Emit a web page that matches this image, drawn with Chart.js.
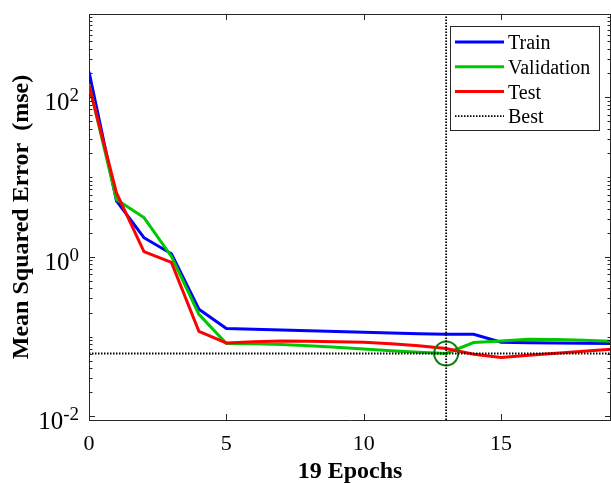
<!DOCTYPE html>
<html>
<head>
<meta charset="utf-8">
<script src="https://cdn.jsdelivr.net/npm/chart.js@4.4.0/dist/chart.umd.min.js"></script>
<style>
    html, body { margin: 0; padding: 0; background: #fff; overflow: hidden; }
    #perfChart { display: block; }
</style>
</head>
<body>
<canvas id="perfChart" width="625" height="483"></canvas>
<script>
    "use strict";

    // epochs and mse per data split
    const epochs = [0, 1, 2, 3, 4, 5, 6, 7, 8, 9, 10, 11, 12, 13, 14, 15, 16, 17, 18, 19];
    const trainMse = [207, 5.0, 1.73, 1.09, 0.22, 0.126, 0.1234, 0.121, 0.118, 0.116, 0.113, 0.111, 0.1087, 0.107, 0.107, 0.085, 0.0835, 0.0829, 0.0822, 0.0817];
    const validationMse = [145, 5.2, 3.1, 1.01, 0.19, 0.0818, 0.0811, 0.0794, 0.0767, 0.0735, 0.070, 0.0665, 0.0637, 0.0613, 0.0841, 0.088, 0.0925, 0.0917, 0.090, 0.0872];
    const testMse = [140, 6.3, 1.16, 0.85, 0.116, 0.083, 0.086, 0.088, 0.087, 0.0862, 0.085, 0.0813, 0.0767, 0.0708, 0.060, 0.0546, 0.0584, 0.0618, 0.0655, 0.0694];

    const bestEpoch = 13;
    const bestMse = 0.0613;

    const xMin = 0, xMax = 19;
    const yMin = 0.009, yMax = 1100;
    const xTickValues = [0, 5, 10, 15];
    const yTickValues = [0.01, 1, 100];
    const yTickLabels = [['10', '-2'], ['10', '0'], ['10', '2']];

    const serif = "'Liberation Serif', 'Times New Roman', serif";
    const axisColor = '#262626';

    function toPoints(values) {
        return values.map((v, i) => ({x: epochs[i], y: v}));
    }

    // minor ticks of the log axis: 2..9 x 10^n, plus the odd decades
    function logMinorTicks() {
        let out = [];
        for (let e = -3; e <= 3; e++) {
            for (let k = 1; k <= 9; k++) {
                let v = k * Math.pow(10, e);
                if (v >= yMin && v <= yMax && yTickValues.indexOf(v) < 0) out.push(v);
            }
        }
        return out;
    }

    // box, inward ticks, y labels with exponents and the legend, MATLAB style
    const matlabFrame = {
        id: 'matlabFrame',
        afterDatasetsDraw(chart) {
            const ctx = chart.ctx;
            const a = chart.chartArea;
            const x = chart.scales.x, y = chart.scales.y;
            ctx.save();

            ctx.strokeStyle = axisColor;
            ctx.lineWidth = 1;
            ctx.beginPath();
            ctx.moveTo(a.left, a.top + 0.5); ctx.lineTo(a.right, a.top + 0.5);
            ctx.moveTo(a.right - 0.5, a.top); ctx.lineTo(a.right - 0.5, a.bottom);
            xTickValues.forEach(v => {
                let px = Math.round(x.getPixelForValue(v)) + 0.5;
                ctx.moveTo(px, a.bottom); ctx.lineTo(px, a.bottom - 6);
                ctx.moveTo(px, a.top); ctx.lineTo(px, a.top + 6);
            });
            yTickValues.forEach(v => {
                let py = Math.round(y.getPixelForValue(v)) + 0.5;
                ctx.moveTo(a.left, py); ctx.lineTo(a.left + 6, py);
                ctx.moveTo(a.right, py); ctx.lineTo(a.right - 6, py);
            });
            logMinorTicks().forEach(v => {
                let py = Math.round(y.getPixelForValue(v)) + 0.5;
                ctx.moveTo(a.left, py); ctx.lineTo(a.left + 3.5, py);
                ctx.moveTo(a.right, py); ctx.lineTo(a.right - 3.5, py);
            });
            ctx.stroke();

            // y tick labels 10^n
            ctx.fillStyle = '#000';
            ctx.textAlign = 'right';
            ctx.textBaseline = 'alphabetic';
            yTickValues.forEach((v, i) => {
                let py = y.getPixelForValue(v);
                let rightEdge = a.left - 10;
                ctx.font = '19px ' + serif;
                let w = ctx.measureText(yTickLabels[i][1]).width;
                ctx.fillText(yTickLabels[i][1], rightEdge, py + 4);
                ctx.font = '25px ' + serif;
                ctx.fillText(yTickLabels[i][0], rightEdge - w, py + 13);
            });

            // legend
            const entries = chart.data.datasets.filter(d => d.inLegend);
            const boxL = a.right - 161, boxT = a.top + 12, boxW = 149, boxH = 104;
            ctx.fillStyle = '#fff';
            ctx.fillRect(boxL, boxT, boxW, boxH);
            ctx.strokeStyle = axisColor;
            ctx.lineWidth = 1;
            ctx.strokeRect(boxL + 0.5, boxT + 0.5, boxW, boxH);
            ctx.font = '20px ' + serif;
            ctx.textAlign = 'left';
            ctx.textBaseline = 'middle';
            entries.forEach((d, i) => {
                let ly = boxT + 16 + i * 24.7;
                ctx.strokeStyle = d.borderColor;
                ctx.lineWidth = d.borderWidth;
                ctx.setLineDash(d.borderDash || []);
                ctx.beginPath();
                ctx.moveTo(boxL + 5, ly); ctx.lineTo(boxL + 54, ly);
                ctx.stroke();
                ctx.setLineDash([]);
                ctx.fillStyle = '#000';
                ctx.fillText(d.label, boxL + 58, ly + 2);
            });
            ctx.restore();
        }
    };

    var ctx = document.getElementById('perfChart');
    var chart = new Chart(ctx, {
        type: 'line',
        data: {
            datasets: [
                {
                    label: 'Train',
                    inLegend: true,
                    data: toPoints(trainMse),
                    borderColor: '#0000ff',
                    borderWidth: 3,
                    pointRadius: 0,
                    order: 3
                },
                {
                    label: 'Validation',
                    inLegend: true,
                    data: toPoints(validationMse),
                    borderColor: '#00c800',
                    borderWidth: 3,
                    pointRadius: 0,
                    order: 2
                },
                {
                    label: 'Test',
                    inLegend: true,
                    data: toPoints(testMse),
                    borderColor: '#ff0000',
                    borderWidth: 3,
                    pointRadius: 0,
                    order: 1
                },
                {
                    label: 'Best',
                    inLegend: true,
                    data: [{x: xMin, y: bestMse}, {x: xMax, y: bestMse}],
                    borderColor: '#000000',
                    borderWidth: 1.8,
                    borderDash: [1.5, 1.5],
                    pointRadius: 0,
                    order: 0
                },
                {
                    label: 'Best epoch',
                    data: [{x: bestEpoch, y: yMin}, {x: bestEpoch, y: yMax}],
                    borderColor: '#000000',
                    borderWidth: 1.8,
                    borderDash: [1.5, 1.5],
                    pointRadius: 0,
                    order: 0
                },
                {
                    label: 'Best point',
                    data: [{x: bestEpoch, y: bestMse}],
                    showLine: false,
                    pointRadius: 12,
                    pointBorderWidth: 2,
                    pointBorderColor: '#0a800a',
                    pointBackgroundColor: 'rgba(0,0,0,0)',
                    order: 0
                }
            ]
        },
        options: {
            responsive: false,
            maintainAspectRatio: false,
            devicePixelRatio: 1,
            animation: false,
            events: [],
            layout: {
                padding: {top: 13, right: 10, left: 0, bottom: 0}
            },
            plugins: {
                legend: {display: false},
                tooltip: {enabled: false}
            },
            scales: {
                x: {
                    type: 'linear',
                    min: xMin,
                    max: xMax,
                    afterBuildTicks: s => { s.ticks = xTickValues.map(v => ({value: v})); },
                    afterFit: s => { s.height = 63; s.paddingLeft = 0; s.paddingRight = 0; },
                    ticks: {
                        color: '#000',
                        padding: 11,
                        maxRotation: 0,
                        font: {family: serif, size: 22}
                    },
                    grid: {display: false, drawTicks: false},
                    border: {display: true, color: axisColor, width: 1},
                    title: {
                        display: true,
                        text: '19 Epochs',
                        color: '#000',
                        padding: {top: 0, bottom: 0},
                        font: {family: serif, size: 24, weight: 'bold', lineHeight: 0.9}
                    }
                },
                y: {
                    type: 'logarithmic',
                    min: yMin,
                    max: yMax,
                    afterFit: s => { s.width = 89; },
                    ticks: {display: false},
                    grid: {display: false, drawTicks: false},
                    border: {display: true, color: axisColor, width: 1},
                    title: {
                        display: true,
                        text: 'Mean Squared Error  (mse)',
                        color: '#000',
                        padding: {top: 10, bottom: 0},
                        font: {family: serif, size: 24, weight: 'bold', lineHeight: 1}
                    }
                }
            }
        },
        plugins: [matlabFrame]
    });
</script>
</body>
</html>
